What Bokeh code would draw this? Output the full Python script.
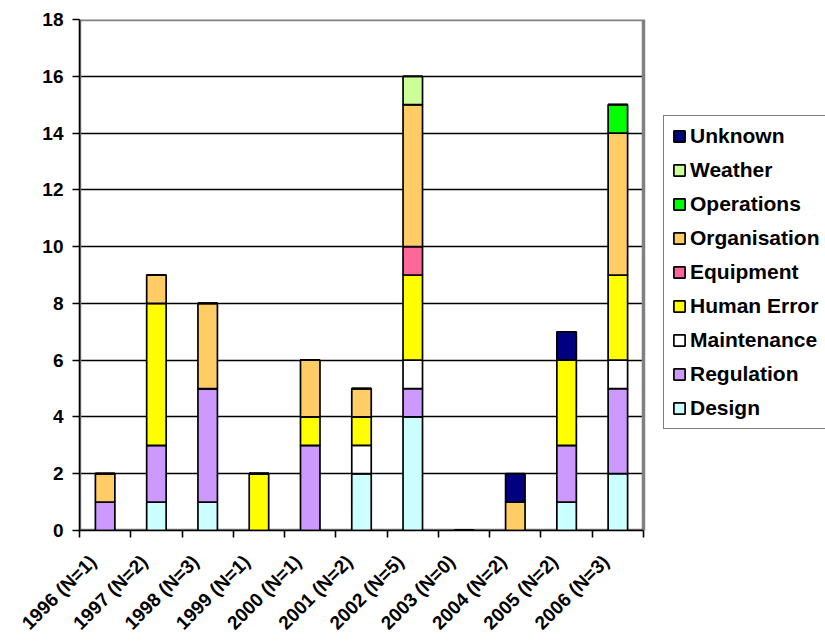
import math
from bokeh.plotting import figure
from bokeh.models import (ColumnDataSource, Range1d, FixedTicker, Legend, LegendItem,
                          BoxAnnotation)
from bokeh.embed import file_html
from bokeh.resources import INLINE

years = ["1996 (N=1)", "1997 (N=2)", "1998 (N=3)", "1999 (N=1)", "2000 (N=1)",
         "2001 (N=2)", "2002 (N=5)", "2003 (N=0)", "2004 (N=2)", "2005 (N=2)", "2006 (N=3)"]

design      = [0, 1, 1, 0, 0, 2, 4, 0, 0, 1, 2]
regulation  = [1, 2, 4, 0, 3, 0, 1, 0, 0, 2, 3]
maintenance = [0, 0, 0, 0, 0, 1, 1, 0, 0, 0, 1]
human_error = [0, 5, 0, 2, 1, 1, 3, 0, 0, 3, 3]
equipment   = [0, 0, 0, 0, 0, 0, 1, 0, 0, 0, 0]
organisation= [1, 1, 3, 0, 2, 1, 5, 0, 1, 0, 5]
operations  = [0, 0, 0, 0, 0, 0, 0, 0, 0, 0, 1]
weather     = [0, 0, 0, 0, 0, 0, 1, 0, 0, 0, 0]
unknown     = [0, 0, 0, 0, 0, 0, 0, 0, 1, 1, 0]

series_names = ["Design", "Regulation", "Maintenance", "Human Error", "Equipment",
                "Organisation", "Operations", "Weather", "Unknown"]
series_values = [design, regulation, maintenance, human_error, equipment,
                 organisation, operations, weather, unknown]
colors = ["#CCFFFF", "#CC99FF", "#FFFFFF", "#FFFF00", "#FF6699",
          "#FFCC66", "#00FF00", "#CCFF99", "#000080"]
y_ticks = [0, 2, 4, 6, 8, 10, 12, 14, 16, 18]
y_max = 18

FONT = "Liberation Sans"
LABEL_SHIFT = 0.24  # label anchor shift (category units), Excel-like placement

# layout (pixels)
W, H = 825, 643
LEFT, TOP, BOTTOM = 79, 19, 113
PLOT_RIGHT = 643          # right edge of the bar area
n = len(years)
x_lo, x_hi = -0.5, n - 0.5
x_end = x_lo + n * (W - LEFT) / (PLOT_RIGHT - LEFT)   # frame extends under the legend

data = {"x": list(range(n))}
for name, v in zip(series_names, series_values):
    data[name] = v
source = ColumnDataSource(data)

p = figure(width=W, height=H, output_backend="svg", toolbar_location=None,
           x_range=Range1d(x_lo, x_end), y_range=Range1d(0, y_max),
           min_border_left=LEFT, min_border_right=0, min_border_top=TOP,
           min_border_bottom=BOTTOM)
p.background_fill_color = "white"
p.border_fill_color = "white"
p.outline_line_color = None

# plot-area border (grey), under the bars and axes
p.add_layout(BoxAnnotation(left=x_lo, right=x_hi, bottom=0, top=y_max, level="underlay",
                           fill_alpha=0, line_color="#808080", line_width=3.5,
                           line_alpha=1))

renderers = p.vbar_stack(series_names, x="x", width=0.38, color=colors,
                         line_color="black", line_width=1.7, source=source)

# grid
p.xgrid.grid_line_color = None
p.ygrid.ticker = FixedTicker(ticks=y_ticks[1:-1])
p.ygrid.grid_line_color = "black"
p.ygrid.grid_line_width = 1.6
p.ygrid.cross_bounds = (x_lo, x_hi)

# x axis
label_pos = [i - LABEL_SHIFT for i in range(n)]
xa = p.xaxis[0]
xa.bounds = (x_lo, x_hi)
xa.ticker = FixedTicker(ticks=label_pos,
                        minor_ticks=[i - 0.5 for i in range(n + 1)])
xa.major_label_overrides = {pos: y for pos, y in zip(label_pos, years)}
xa.major_label_orientation = math.pi / 4
xa.major_tick_line_color = None
xa.major_tick_out = 0
xa.major_tick_in = 0
xa.minor_tick_line_color = "black"
xa.minor_tick_line_width = 1.6
xa.minor_tick_out = 7
xa.minor_tick_in = 0
xa.axis_line_color = "black"
xa.axis_line_width = 1.6
xa.major_label_text_font = FONT
xa.major_label_text_font_style = "bold"
xa.major_label_text_font_size = "19px"
xa.major_label_text_color = "black"
xa.major_label_standoff = 21

# y axis
ya = p.yaxis[0]
ya.ticker = FixedTicker(ticks=y_ticks)
ya.axis_line_color = "black"
ya.axis_line_width = 1.6
ya.major_tick_line_color = "black"
ya.major_tick_line_width = 1.6
ya.major_tick_out = 7
ya.major_tick_in = 0
ya.minor_tick_line_color = None
ya.major_label_text_font = FONT
ya.major_label_text_font_style = "bold"
ya.major_label_text_font_size = "19px"
ya.major_label_text_color = "black"
ya.major_label_standoff = 9

items = [LegendItem(label=name, renderers=[r]) for name, r in zip(series_names, renderers)]
items = items[::-1]
legend = Legend(items=items, location=(663 - LEFT, H - BOTTOM - 429), orientation="vertical")
legend.glyph_height = 14
legend.glyph_width = 14
legend.label_height = 20
legend.spacing = 10
legend.padding = 8
legend.margin = 0
legend.label_standoff = 4
legend.label_text_font = FONT
legend.label_text_font_style = "bold"
legend.label_text_font_size = "21px"
legend.label_text_color = "black"
legend.border_line_color = "black"
legend.border_line_width = 1.6
legend.background_fill_color = "white"
legend.background_fill_alpha = 1
p.add_layout(legend, "center")

open("out.html", "w").write(file_html(p, INLINE))
